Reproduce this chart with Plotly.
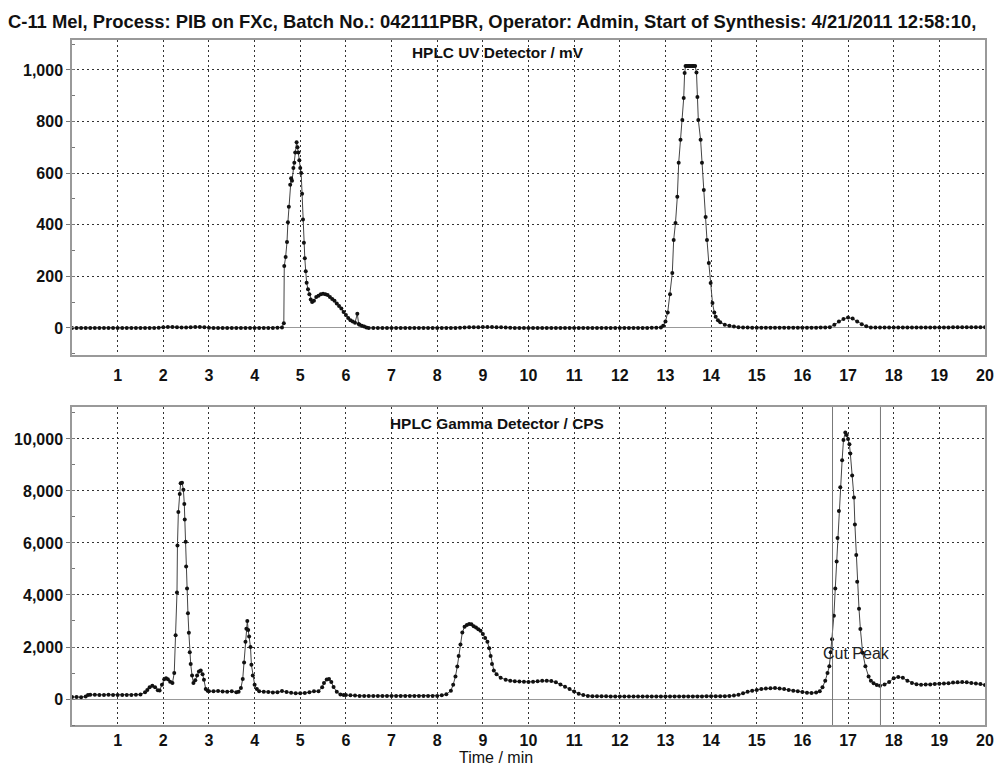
import plotly.graph_objects as go

# ---------------- data ----------------
uv_time = [
    0.0, 0.1, 0.2, 0.3, 0.4, 0.5, 0.6, 0.7, 0.8, 0.9,
    1.0, 1.1, 1.2, 1.3, 1.4, 1.5, 1.6, 1.7, 1.8, 1.9,
    2.0, 2.1, 2.2, 2.3, 2.4, 2.5, 2.6, 2.7, 2.8, 2.9,
    3.0, 3.1, 3.2, 3.3, 3.4, 3.5, 3.6, 3.7, 3.8, 3.9,
    4.0, 4.1, 4.2, 4.3, 4.4, 4.5, 4.6, 4.64,
    4.65, 4.68, 4.71, 4.73, 4.75, 4.78, 4.80, 4.82, 4.85, 4.87,
    4.89, 4.92, 4.94, 4.96, 4.98, 5.00, 5.02, 5.04, 5.06, 5.08,
    5.10, 5.12, 5.14, 5.17, 5.20, 5.23, 5.26, 5.30, 5.35, 5.40,
    5.45, 5.50, 5.55, 5.60, 5.65, 5.70, 5.75, 5.80, 5.85, 5.90,
    5.95, 6.00, 6.05, 6.10, 6.15, 6.20, 6.25, 6.28, 6.30, 6.35,
    6.40, 6.45, 6.50,
    6.6, 6.7, 6.8, 6.9,
    7.0, 7.1, 7.2, 7.3, 7.4, 7.5, 7.6, 7.7, 7.8, 7.9,
    8.0, 8.1, 8.2, 8.3, 8.4, 8.5, 8.6, 8.7, 8.8, 8.9,
    9.0, 9.1, 9.2, 9.3, 9.4, 9.5, 9.6, 9.7, 9.8, 9.9,
    10.0, 10.1, 10.2, 10.3, 10.4, 10.5, 10.6, 10.7, 10.8, 10.9,
    11.0, 11.1, 11.2, 11.3, 11.4, 11.5, 11.6, 11.7, 11.8, 11.9,
    12.0, 12.1, 12.2, 12.3, 12.4, 12.5, 12.6, 12.7, 12.8,
    12.9, 12.95, 13.0, 13.05, 13.1, 13.15, 13.18, 13.22, 13.26, 13.29,
    13.33, 13.37, 13.40, 13.42, 13.44, 13.47, 13.50, 13.53, 13.56, 13.59,
    13.62, 13.65, 13.68, 13.70, 13.72, 13.77, 13.80, 13.84, 13.88, 13.91,
    13.95, 13.99, 14.03, 14.07, 14.10, 14.15, 14.20, 14.30, 14.40, 14.50,
    14.60, 14.70,
    14.8, 14.9,
    15.0, 15.1, 15.2, 15.3, 15.4, 15.5, 15.6, 15.7, 15.8, 15.9,
    16.0, 16.1, 16.2, 16.3, 16.4, 16.5,
    16.6, 16.7, 16.8, 16.9, 17.0, 17.1, 17.2, 17.3, 17.4, 17.5,
    17.6, 17.7, 17.8, 17.9,
    18.0, 18.1, 18.2, 18.3, 18.4, 18.5, 18.6, 18.7, 18.8, 18.9,
    19.0, 19.1, 19.2, 19.3, 19.4, 19.5, 19.6, 19.7, 19.8, 19.9,
    20.0,
]
uv_mv = [
    0, 0, 0, 0, 0, 0, 0, 0, 0, 0,
    0, 0, 0, 0, 0, 0, 0, 0, 0, 1,
    3, 4, 4, 3, 2, 2, 3, 4, 4, 3,
    1, 0, 0, 0, 0, 0, 0, 0, 0, 0,
    0, 0, 0, 0, 0, 1, 2, 18,
    240, 275, 333, 410, 470, 555, 580, 570, 620, 640,
    680, 720, 700, 680, 650, 620, 600, 520, 420, 330,
    270, 220, 175, 150, 130, 110, 100, 105, 120, 125,
    130, 132, 130, 128, 120, 112, 105, 95, 85, 75,
    62, 50, 38, 30, 25, 20, 55, 15, 12, 8,
    5, 2, 0,
    0, 0, 0, 0,
    0, 0, 0, 0, 0, 0, 0, 0, 0, 0,
    0, 0, 0, 0, 0, 1, 2, 3, 3, 3,
    4, 4, 4, 3, 3, 2, 1, 0, 0, 0,
    0, 0, 0, 0, 0, 0, 0, 0, 0, 0,
    0, 0, 0, 0, 0, 0, 0, 0, 0, 0,
    0, 0, 0, 0, 0, 0, 0, 1, 1,
    2, 8, 25, 60, 130, 213, 341, 407, 508, 640,
    729, 806, 891, 988, 1015, 1015, 1015, 1015, 1015, 1015,
    1015, 1015, 990, 895, 806, 729, 640, 535, 430, 341,
    252, 174, 97, 60, 43, 30, 22, 12, 8, 5,
    3, 2,
    2, 1,
    1, 1, 1, 1, 1, 1, 1, 1, 1, 1,
    1, 1, 1, 1, 2, 2,
    3, 12, 25, 35, 40, 36, 25, 14, 6, 2,
    2, 2, 2, 2,
    2, 2, 2, 2, 2, 2, 2, 2, 2, 2,
    2, 2, 2, 3, 3, 3, 3, 3, 3, 3,
    3,
]

gamma_time = [
    0.0, 0.1, 0.2, 0.3, 0.35, 0.4, 0.5, 0.6, 0.7, 0.8, 0.9, 1.0, 1.1, 1.2, 1.3, 1.4, 1.5,
    1.6, 1.65, 1.7, 1.76, 1.82, 1.88, 1.92, 1.97, 2.02, 2.06,
    2.1, 2.15, 2.2, 2.24, 2.27, 2.3, 2.31, 2.33, 2.36, 2.38,
    2.41, 2.44, 2.46, 2.47, 2.49, 2.5, 2.52, 2.54, 2.56, 2.58,
    2.6, 2.63, 2.66, 2.7, 2.74, 2.78, 2.82, 2.86, 2.89, 2.93,
    2.97,
    3.0, 3.1, 3.2, 3.3, 3.4, 3.5, 3.6, 3.65,
    3.7, 3.74, 3.77, 3.8, 3.82, 3.84, 3.86, 3.88, 3.91, 3.93, 3.96, 4.0, 4.05, 4.1,
    4.2, 4.3, 4.4, 4.5, 4.6, 4.7, 4.8, 4.9, 5.0, 5.1, 5.2, 5.3, 5.4,
    5.48, 5.52, 5.58, 5.63, 5.68, 5.73, 5.8, 5.88, 5.95,
    6.0, 6.1, 6.2, 6.3, 6.4, 6.5, 6.6, 6.7, 6.8, 6.9,
    7.0, 7.1, 7.2, 7.3, 7.4, 7.5, 7.6, 7.7, 7.8, 7.9,
    8.0, 8.1, 8.2,
    8.3, 8.35, 8.4, 8.44, 8.47, 8.51, 8.55, 8.6, 8.65, 8.7, 8.75, 8.8,
    8.85, 8.9, 8.95, 9.0, 9.05, 9.1, 9.14, 9.17, 9.2, 9.24, 9.3, 9.39,
    9.5, 9.6, 9.7, 9.8, 9.9,
    10.0, 10.1, 10.2, 10.3, 10.4, 10.5, 10.6, 10.7, 10.8, 10.9,
    11.0, 11.1, 11.2, 11.3, 11.4, 11.5, 11.6, 11.7, 11.8, 11.9,
    12.0, 12.1, 12.2, 12.3, 12.4, 12.5, 12.6, 12.7, 12.8, 12.9,
    13.0, 13.1, 13.2, 13.3, 13.4, 13.5, 13.6, 13.7, 13.8, 13.9,
    14.0, 14.1, 14.2, 14.3, 14.4,
    14.5, 14.6, 14.7, 14.8, 14.9,
    15.0, 15.1, 15.2, 15.3, 15.4, 15.5, 15.6, 15.7, 15.8, 15.9,
    16.0, 16.1, 16.2, 16.3,
    16.38, 16.44, 16.5, 16.55, 16.59, 16.62, 16.65, 16.69, 16.72, 16.75,
    16.77, 16.8, 16.83, 16.87, 16.9, 16.94, 16.97, 17.0, 17.03, 17.05,
    17.09, 17.13, 17.15, 17.18, 17.2, 17.24, 17.27, 17.32, 17.38, 17.45,
    17.5, 17.56, 17.63, 17.7,
    17.8, 17.9,
    18.0, 18.1, 18.2, 18.3, 18.4, 18.5, 18.6, 18.7, 18.8, 18.9,
    19.0, 19.1, 19.2, 19.3, 19.4, 19.5, 19.6, 19.7, 19.8, 19.9,
    20.0,
]
gamma_cps = [
    80, 80, 70, 100, 150, 160, 160, 150, 150, 160, 150, 150, 150, 155, 150, 160, 170,
    260, 350, 450, 510, 450, 340, 330, 550, 760, 800,
    760, 660, 620, 1000, 2450, 4100, 5900, 7190, 7880, 8300,
    8320, 8050, 7500, 6900, 6050, 5100, 4250, 3300, 2550, 1800,
    1350, 900, 620, 720, 900, 1060, 1100, 950, 740, 380,
    320,
    300, 300, 310, 290, 280, 300, 260, 280,
    420, 770, 1400, 2200, 2700, 3000, 2650, 2400, 2000, 1320, 900, 550, 380, 300,
    280, 270, 250, 260, 310, 270, 240, 220, 220, 230, 260, 300, 300,
    450, 620, 750, 770, 650, 460, 280, 170, 150,
    150, 140, 130, 120, 120, 120, 120, 120, 120, 120,
    120, 120, 120, 120, 120, 120, 120, 120, 120, 120,
    120, 140, 180,
    320, 550, 870, 1250, 1650, 2100, 2560, 2780, 2850, 2880, 2870, 2800,
    2750, 2680, 2620, 2500, 2350, 2200, 1950, 1650, 1350, 1100, 950, 820,
    740, 700, 680, 670, 660,
    650, 660, 680, 700, 700, 690, 640, 560, 470, 380,
    290, 200, 150, 120, 110, 110, 105, 105, 100, 100,
    100, 100, 100, 100, 100, 100, 100, 100, 100, 100,
    100, 100, 100, 100, 100, 100, 100, 100, 100, 110,
    110, 110, 110, 110, 120,
    130, 160, 220, 280, 320,
    350, 380, 400, 410, 420, 400, 380, 350, 320, 300,
    270, 240, 230, 250,
    300, 450, 700, 1000, 1260, 1800, 2300, 3200, 4250, 5290,
    6190, 7230, 8140, 9180, 9960, 10250, 10150, 10000, 9800, 9440,
    8600, 7750, 6710, 5540, 4510, 3470, 2690, 1780, 1260, 870,
    700, 610, 540, 510,
    560, 650,
    800, 850, 820, 700, 620, 570, 550, 560, 560, 580,
    590, 600, 610, 630, 640, 650, 640, 620, 600, 580,
    540,
]

x_ticks = [1, 2, 3, 4, 5, 6, 7, 8, 9, 10, 11, 12, 13, 14, 15, 16, 17, 18, 19, 20]
uv_ticks = [0, 200, 400, 600, 800, 1000]
gamma_ticks = [0, 2000, 4000, 6000, 8000, 10000]
cut_start, cut_end = 16.66, 17.71

title_text = ("C-11 Mel, Process: PIB on FXc, Batch No.: 042111PBR, Operator: Admin, "
              "Start of Synthesis: 4/21/2011 12:58:10,")
uv_title = "HPLC UV Detector / mV"
gamma_title = "HPLC Gamma Detector / CPS"
x_title = "Time / min"
cut_label = "Cut Peak"

# ---------------- figure ----------------
FONT = "Liberation Sans, Arial, sans-serif"
W, H = 995, 766
L, R = 72, 985
top_dom = [1 - 355 / H, 1 - 40 / H]
bot_dom = [1 - 725 / H, 1 - 407 / H]

fig = go.Figure()
trace_style = dict(mode="lines+markers",
                   line=dict(color="#444", width=1),
                   marker=dict(color="#111", size=4),
                   showlegend=False, hoverinfo="x+y")
fig.add_trace(go.Scatter(x=uv_time, y=uv_mv, xaxis="x", yaxis="y", **trace_style))
fig.add_trace(go.Scatter(x=gamma_time, y=gamma_cps, xaxis="x2", yaxis="y2", **trace_style))

tickfont = dict(family=FONT, size=16, color="#111", weight="bold")
xcommon = dict(range=[0, 20], tickmode="array", tickvals=x_ticks, ticks="",
               showgrid=True, griddash="2px,3px", gridcolor="#333", gridwidth=1,
               showline=True, mirror=True, linecolor="#999", linewidth=1.5,
               zeroline=False, tickfont=tickfont, domain=[0, 1])
ycommon = dict(tickmode="array", ticks="outside", ticklen=4, tickcolor="#777",
               showgrid=True, griddash="2px,3px", gridcolor="#333", gridwidth=1,
               showline=True, mirror=True, linecolor="#999", linewidth=1.5,
               zeroline=True, zerolinecolor="#999", zerolinewidth=1,
               tickformat=",d", tickfont=tickfont)

fig.update_layout(
    width=W, height=H,
    margin=dict(l=L, r=W - R, t=0, b=0),
    paper_bgcolor="white", plot_bgcolor="white",
    xaxis=dict(anchor="y", ticklabelstandoff=5, **xcommon),
    xaxis2=dict(anchor="y2", ticklabelstandoff=0, **xcommon),
    yaxis=dict(domain=top_dom, range=[-105, 1116], tickvals=uv_ticks, anchor="x",
               minor=dict(ticks="inside", ticklen=3, dtick=100, tickcolor="#777", showgrid=False),
               **ycommon),
    yaxis2=dict(domain=bot_dom, range=[-1000, 11230], tickvals=gamma_ticks, anchor="x2",
                minor=dict(ticks="inside", ticklen=3, dtick=1000, tickcolor="#777", showgrid=False),
                **ycommon),
    title=dict(text=title_text, x=8 / W, xanchor="left", y=1 - 22 / H, yanchor="middle",
               font=dict(family=FONT, size=18.4, color="#111", weight="bold")),
    shapes=[
        dict(type="line", xref="x2", yref="y2 domain", x0=cut_start, x1=cut_start, y0=0, y1=1,
             line=dict(color="#777", width=1)),
        dict(type="line", xref="x2", yref="y2 domain", x0=cut_end, x1=cut_end, y0=0, y1=1,
             line=dict(color="#777", width=1)),
    ],
    annotations=[
        dict(text=uv_title, xref="paper", yref="paper", x=(498 - L) / (R - L), y=1 - 53 / H,
             showarrow=False, xanchor="center", yanchor="middle",
             font=dict(family=FONT, size=15.4, color="#111", weight="bold")),
        dict(text=gamma_title, xref="paper", yref="paper", x=(497 - L) / (R - L), y=1 - 423 / H,
             showarrow=False, xanchor="center", yanchor="middle",
             font=dict(family=FONT, size=15.4, color="#111", weight="bold")),
        dict(text=x_title, xref="paper", yref="paper", x=(496 - L) / (R - L), y=1 - 757 / H,
             showarrow=False, xanchor="center", yanchor="middle",
             font=dict(family=FONT, size=16, color="#111")),
        dict(text=cut_label, xref="x2", yref="y2", x=(cut_start + cut_end) / 2, y=1750,
             showarrow=False, xanchor="center", yanchor="middle",
             font=dict(family=FONT, size=16, color="#222")),
    ],
)

fig.write_html(
    "out.html",
    config={"displayModeBar": False},
    post_script="document.body.style.margin='0';document.body.style.overflow='hidden';",
)
